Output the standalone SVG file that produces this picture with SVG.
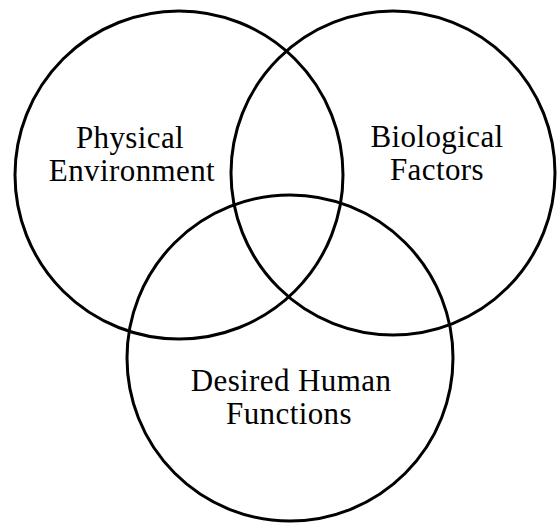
<svg xmlns="http://www.w3.org/2000/svg" width="558" height="524" viewBox="0 0 558 524">
  <style>
    .set { fill: none; stroke: #000; stroke-width: 3; }
    .label { font-family: "Liberation Serif", "Times New Roman", serif; font-size: 31px; letter-spacing: 0.4px; fill: #000; text-anchor: middle; }
  </style>
  <rect width="558" height="524" fill="#fff"/>
  <g id="physical-environment">
    <circle class="set" cx="179" cy="175" r="164"/>
    <text class="label" x="130" y="148">Physical</text>
    <text class="label" x="132" y="181">Environment</text>
  </g>
  <g id="biological-factors">
    <circle class="set" cx="393" cy="173" r="162"/>
    <text class="label" x="437" y="147">Biological</text>
    <text class="label" x="437" y="180">Factors</text>
  </g>
  <g id="desired-human-functions">
    <circle class="set" cx="290" cy="358" r="163"/>
    <text class="label" x="291" y="391">Desired Human</text>
    <text class="label" x="289" y="424">Functions</text>
  </g>
  <g id="connectors"></g>
</svg>
